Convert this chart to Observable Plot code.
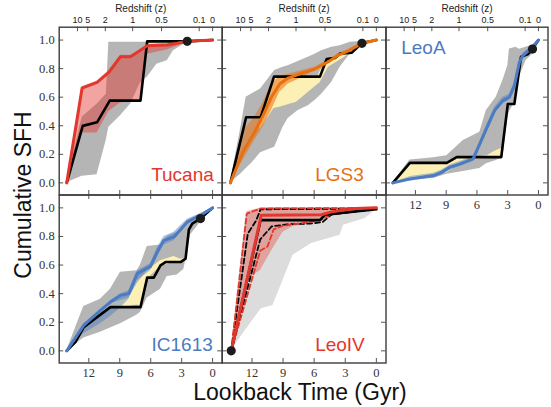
<!DOCTYPE html>
<html>
<head>
<meta charset="utf-8">
<script src="https://cdn.jsdelivr.net/npm/d3@7"></script>
<script src="https://cdn.jsdelivr.net/npm/@observablehq/plot@0.6"></script>
<style>
  body { margin: 0; background: #fff; }
  #fig { position: relative; width: 551px; height: 407px; overflow: hidden; background: #fff; }
  #fig svg { position: absolute; left: 0; top: 0; }
  .big { position: absolute; font-family: "Liberation Sans", Arial, sans-serif; font-size: 23px; line-height: 1; white-space: nowrap; color: #111; }
</style>
</head>
<body>
<div id="fig">
  <div class="big" id="ylab">Cumulative SFH</div>
  <div class="big" id="xlab">Lookback Time (Gyr)</div>
</div>
<script>
// ---- axes ----
const lookbackTicks = [0, 3, 6, 9, 12];
const sfhTicks = [0, 0.2, 0.4, 0.6, 0.8, 1.0];
const redshiftLabels = ["10", "5", "2", "1", "0.5", "0.1", "0"];
const redshiftLookback = [13.1, 12.1, 10.4, 7.75, 4.95, 1.3, 0];

// ---- Tucana: [t, value] lines, [t, lo, hi] bands ----
const tucanaGray = [[14.14,0,0],[12.65,0.047,0.46],[11.2,0.056,0.55],[10.3,0.3,0.62],[10.06,0.39,0.985],[8.93,0.47,0.985],[7.96,0.55,0.985],[7.0,0.70,0.985],[6.34,0.74,0.985],[5.4,0.83,0.985],[4.4,0.855,0.987],[3.8,0.925,0.99],[2.46,0.985,0.992],[0,1,1]];
const tucanaYellow = [[6.34,0.96,0.99],[4.4,0.965,0.99],[3.43,0.977,0.99]];
const tucanaBand = [[14.14,0,0],[12.65,0.35,0.675],[11.2,0.35,0.712],[10.06,0.5,0.785],[8.93,0.56,0.893],[7.96,0.575,0.893],[7.0,0.58,0.92],[6.34,0.9,0.968],[4.4,0.93,0.975],[2.46,0.985,0.995],[0,1,1]];
const tucanaBlack = [[14.14,0],[12.59,0.399],[11.2,0.424],[9.97,0.576],[6.99,0.576],[6.34,0.991],[2.46,0.991],[0,1]];
const tucanaLine = [[14.14,0],[12.65,0.664],[11.2,0.704],[10.06,0.774],[8.93,0.883],[7.96,0.883],[6.34,0.96],[4.4,0.965],[3.43,0.977],[2.46,0.991],[0,1]];
const tucanaDot = [[2.46,0.991]];

// ---- LGS3 ----
const lgs3Gray = [[14.08,0,0],[13.04,0.063,0.4],[12.56,0.1,0.6],[12.07,0.133,0.62],[11.17,0.21,0.657],[9.81,0.249,0.786],[9.0,0.389,0.81],[8.51,0.45,0.82],[7.54,0.506,0.85],[6.57,0.54,0.879],[5.92,0.576,0.9],[5.28,0.62,0.925],[4.3,0.704,0.949],[3.5,0.809,0.96],[2.52,0.902,0.984],[1.39,0.972,0.99],[0,1,1]];
const lgs3Yellow = [[11.26,0.37,0.46],[9.87,0.52,0.744],[9.32,0.53,0.744],[7.7,0.564,0.744],[5.6,0.692,0.75],[5.44,0.70,0.78],[4.63,0.809,0.867],[3.33,0.867,0.91],[1.39,0.96,0.977],[0,1,1]];
const lgs3Band = [[14.08,0,0],[12.88,0.156,0.36],[11.75,0.296,0.46],[10.94,0.389,0.56],[10.13,0.506,0.69],[9.32,0.634,0.745],[8.51,0.692,0.76],[7.22,0.734,0.785],[5.92,0.785,0.81],[4.63,0.838,0.862],[3.66,0.885,0.905],[2.69,0.915,0.935],[1.39,0.97,0.982],[0,1,1]];
const lgs3Black = [[14.08,0],[12.56,0.459],[11.17,0.459],[9.87,0.744],[5.44,0.744],[4.79,0.867],[3.98,0.875],[3.5,0.905],[2.36,0.912],[1.88,0.945],[1.39,0.977],[0,1]];
const lgs3Line = [[14.08,0],[12.88,0.214],[11.75,0.354],[10.94,0.471],[10.13,0.599],[9.32,0.692],[8.51,0.734],[7.22,0.767],[5.92,0.797],[4.63,0.848],[3.66,0.895],[2.69,0.925],[1.39,0.977],[0,1]];
const lgs3Dot = [[1.39,0.977]];

// ---- LeoA ----
const leoaGray = [[14.2,0,0],[12.54,0.02,0.16],[10.23,0.03,0.175],[8.94,0.06,0.19],[7.33,0.08,0.296],[5.72,0.1,0.354],[5.08,0.133,0.506],[4.12,0.156,0.6],[3.47,0.18,0.716],[2.99,0.46,0.82],[2.83,0.5,0.937],[2.19,0.576,0.949],[1.86,0.739,0.935],[1.22,0.855,0.949],[0.58,0.9,0.965],[0,1,1]];
const leoaYellow = [[14.2,0,0],[12.54,0.03,0.14],[10.23,0.05,0.14],[8.94,0.07,0.14],[7.97,0.12,0.18],[6.37,0.165,0.18],[5.0,0.17,0.19],[4.3,0.175,0.22],[3.63,0.18,0.24],[3.5,0.2,0.22]];
const leoaBand = [[14.2,0,0],[12.48,0.012,0.045],[10.23,0.035,0.068],[9.42,0.055,0.09],[8.62,0.09,0.125],[7.65,0.115,0.15],[6.37,0.15,0.185],[5.72,0.25,0.29],[5.08,0.355,0.4],[4.28,0.485,0.53],[3.47,0.555,0.6],[2.83,0.58,0.62],[2.35,0.66,0.7],[1.86,0.82,0.86],[1.54,0.87,0.905],[0.9,0.915,0.945],[0.58,0.935,0.962],[0,1,1]];
const leoaBlack = [[14.2,0],[12.54,0.14],[8.94,0.14],[7.97,0.18],[3.63,0.18],[2.99,0.552],[2.35,0.552],[1.7,0.883],[1.06,0.9],[0.58,0.937],[0,1]];
const leoaLine = [[14.2,0],[12.48,0.028],[10.23,0.051],[9.42,0.075],[8.62,0.11],[7.65,0.133],[6.37,0.168],[5.72,0.273],[5.08,0.378],[4.28,0.506],[3.47,0.576],[2.83,0.6],[2.35,0.681],[1.86,0.844],[1.54,0.89],[0.9,0.93],[0.58,0.949],[0,1]];
const leoaDot = [[0.58,0.937]];

// ---- IC1613 ----
const icGray = [[14.14,0,0],[12.49,0.09,0.31],[10.87,0.13,0.36],[9.9,0.16,0.43],[8.93,0.19,0.55],[7.31,0.25,0.56],[6.99,0.27,0.6],[6.34,0.37,0.73],[5.05,0.43,0.74],[4.4,0.52,0.8],[3.43,0.53,0.83],[2.78,0.57,0.87],[2.14,0.81,0.91],[1.17,0.9,0.95],[0,1,1]];
const icYellow = [[14.14,0,0],[13.3,0.06,0.08],[12.49,0.16,0.18],[11.2,0.23,0.26],[9.9,0.3,0.33],[8.12,0.31,0.37],[7.31,0.32,0.47],[6.99,0.31,0.5],[6.34,0.5,0.56],[5.05,0.59,0.63],[3.75,0.62,0.66],[3.1,0.62,0.64],[2.62,0.645,0.65]];
const icBand = [[14.14,0,0],[12.49,0.12,0.19],[10.87,0.19,0.29],[9.9,0.24,0.35],[8.93,0.3,0.4],[8.12,0.36,0.42],[7.31,0.49,0.56],[6.02,0.56,0.61],[5.37,0.65,0.72],[4.72,0.74,0.8],[3.75,0.77,0.83],[2.46,0.88,0.92],[1.17,0.935,0.96],[0,1,1]];
const icBlack = [[14.14,0],[13.3,0.061],[12.49,0.166],[11.2,0.236],[9.9,0.306],[6.99,0.306],[6.34,0.512],[5.7,0.512],[5.05,0.598],[4.56,0.621],[3.1,0.621],[2.62,0.645],[2.3,0.848],[1.97,0.89],[1.17,0.925],[0,1]];
const icLine = [[14.14,0],[12.49,0.178],[10.87,0.283],[9.9,0.341],[8.93,0.388],[8.12,0.4],[7.31,0.54],[6.02,0.591],[5.37,0.692],[4.72,0.773],[3.75,0.797],[2.46,0.902],[1.17,0.949],[0,1]];
const icDot = [[1.17,0.925]];

// ---- LeoIV ----
const leoivGray = [[14.0,0,0],[12.6,0.145,0.95],[11.1,0.294,1.0],[9.97,0.318,1.0],[8.03,0.668,1.0],[6.25,0.75,1.0],[3.5,0.808,1.0],[3.17,0.879,1.0],[1.07,0.925,1.0],[0,0.99,1.0]];
const leoivBand = [[14.0,0,0],[12.46,0.5,0.975],[11.2,0.56,0.998],[10.1,0.7,1],[9.0,0.83,1],[8.0,0.87,1],[6.0,0.89,1],[4.3,0.94,1],[0,1,1]];
const leoivBlackHi = [[14.0,0],[12.4,0.82],[11.6,0.91],[11.17,0.99],[0,0.995]];
const leoivBlackLo = [[14.0,0],[11.2,0.78],[10.1,0.87],[8.6,0.885],[6.4,0.89],[5.2,0.9],[4.3,0.955],[0,0.99]];
const leoivRedHi = [[14.0,0],[12.5,0.96],[11.2,0.995],[0,1]];
const leoivRedLo = [[14.0,0],[11.2,0.7],[10.5,0.73],[9.9,0.85],[9.0,0.875],[6.5,0.9],[5.2,0.92],[4.0,0.97],[0,1]];
const leoivBlack = [[14.0,0],[11.17,0.914],[5.44,0.914],[4.95,0.953],[0,0.99]];
const leoivLine = [[14.0,0],[11.1,0.949],[5.3,0.952],[4.3,0.972],[2.04,0.995],[0,1]];
const leoivDot = [[14.0,0]];

// ---- styling ----
const W = 551, H = 407;
const X_DOMAIN = [14.87, -0.93];
const Y_DOMAIN = [-0.085, 1.09];
const RED = "#e2372d", ORANGE = "#e8700f", BLUE = "#4a7bc3";
const GRAY = "#b5b5b5", LIGHTGRAY = "#dcdcdc", YELLOW = "#fdf0b4";
const SANS = "'Liberation Sans', Arial, sans-serif";
const SERIF = "'Liberation Serif', 'Times New Roman', serif";
const fmt = d3.format(".1f");

const tx = d => d[0], vy = d => d[1];
const band = (data, fill, fillOpacity = 1) =>
  Plot.areaY(data, {x: tx, y1: d => d[1], y2: d => d[2], fill, fillOpacity});
const line = (data, stroke, strokeWidth = 3, extra = {}) =>
  Plot.line(data, {x: tx, y: vy, stroke, strokeWidth, strokeLinejoin: "round", ...extra});
const dot = data => Plot.dot(data, {x: tx, y: vy, r: 4.6, fill: "#1c1c1c"});

function panel(box, marks, opt) {
  const w = box.right - box.left, h = box.bottom - box.top, tk = 4.5;
  const all = [
    ...marks,
    Plot.tickX(lookbackTicks, {x: d => d, insetTop: h - tk, stroke: "#555"}),
    Plot.tickX(opt.top === "z" ? redshiftLookback : lookbackTicks, {x: d => d, insetBottom: h - tk, stroke: "#555"}),
    Plot.tickY(sfhTicks, {y: d => d, insetRight: w - tk, stroke: "#555"}),
    Plot.tickY(sfhTicks, {y: d => d, insetLeft: w - tk, stroke: "#555"}),
    Plot.frame({stroke: "#3c3c3c", strokeWidth: 1.4}),
    Plot.text([opt.name], {text: d => d, frameAnchor: opt.anchor, dx: opt.dx, dy: opt.dy,
      textAnchor: opt.anchor.endsWith("left") ? "start" : "end", lineAnchor: "middle",
      fill: opt.color, fontSize: 19, fontFamily: SANS})
  ];
  if (opt.top === "z") {
    all.push(
      Plot.text(redshiftLookback, {x: d => d, text: (d, i) => redshiftLabels[i], frameAnchor: "top",
        dy: -7.4, lineAnchor: "middle", fontSize: 9, fontFamily: SANS, fill: "#222"}),
      Plot.text(["Redshift (z)"], {text: d => d, frameAnchor: "top", dy: -18.4, lineAnchor: "middle",
        fontSize: 10, fontFamily: SANS, fill: "#222"})
    );
  }
  if (opt.yLabels) {
    all.push(Plot.text(sfhTicks, {y: d => d, text: fmt, frameAnchor: "left", dx: -4.5,
      textAnchor: "end", lineAnchor: "middle", fontSize: 12.5, fontFamily: SERIF, fill: "#333"}));
  }
  if (opt.xLabels) {
    all.push(Plot.text(lookbackTicks, {x: d => d, text: d => String(d), frameAnchor: "bottom", dy: 9.8,
      lineAnchor: "middle", fontSize: 12.5, fontFamily: SERIF, fill: "#333"}));
  }
  return Plot.plot({
    width: W, height: H,
    marginLeft: box.left, marginRight: W - box.right,
    marginTop: box.top, marginBottom: H - box.bottom,
    x: {domain: X_DOMAIN, axis: null},
    y: {domain: Y_DOMAIN, axis: null},
    style: {background: "transparent", overflow: "visible", color: "#222"},
    marks: all
  });
}

const rowTop = {top: 26.7, bottom: 194.5};
const rowBot = {top: 194.5, bottom: 362.5};
const col = [{left: 58.7, right: 221.7}, {left: 221.7, right: 385.5}, {left: 385.5, right: 547.5}];

const fig = document.getElementById("fig");
const panels = [
  panel({...col[0], ...rowTop}, [
    band(tucanaGray, GRAY), band(tucanaYellow, YELLOW), band(tucanaBand, RED, 0.45),
    line(tucanaBlack, "#000", 2.6), line(tucanaLine, RED, 3), dot(tucanaDot)
  ], {name: "Tucana", color: RED, anchor: "bottom-right", dx: -8.4, dy: -19.6, top: "z", yLabels: true}),
  panel({...col[1], ...rowTop}, [
    band(lgs3Gray, GRAY), band(lgs3Yellow, YELLOW), band(lgs3Band, ORANGE, 0.55),
    line(lgs3Black, "#000", 2.6), line(lgs3Line, ORANGE, 3), dot(lgs3Dot)
  ], {name: "LGS3", color: ORANGE, anchor: "bottom-right", dx: -22.2, dy: -19.6, top: "z"}),
  panel({...col[2], ...rowTop}, [
    band(leoaGray, GRAY), band(leoaYellow, YELLOW), band(leoaBand, BLUE, 0.45),
    line(leoaBlack, "#000", 2.6), line(leoaLine, BLUE, 3), dot(leoaDot)
  ], {name: "LeoA", color: BLUE, anchor: "top-left", dx: 15.2, dy: 20.5, top: "z", xLabels: true}),
  panel({...col[0], ...rowBot}, [
    band(icGray, GRAY), band(icYellow, YELLOW), band(icBand, BLUE, 0.45),
    line(icBlack, "#000", 2.6), line(icLine, BLUE, 3), dot(icDot)
  ], {name: "IC1613", color: BLUE, anchor: "bottom-right", dx: -9.4, dy: -18.3, top: "t", yLabels: true, xLabels: true}),
  panel({...col[1], ...rowBot}, [
    band(leoivGray, LIGHTGRAY), band(leoivBand, RED, 0.35),
    line(leoivBlackHi, "#000", 1.8, {strokeDasharray: "5,3"}),
    line(leoivBlackLo, "#000", 1.8, {strokeDasharray: "5,3"}),
    line(leoivRedHi, RED, 1.8, {strokeDasharray: "5,3"}),
    line(leoivRedLo, RED, 1.8, {strokeDasharray: "5,3"}),
    line(leoivBlack, "#000", 2.6), line(leoivLine, RED, 3), dot(leoivDot)
  ], {name: "LeoIV", color: RED, anchor: "bottom-right", dx: -21.2, dy: -18.3, top: "t", xLabels: true})
];
for (const p of panels) fig.appendChild(p);

// shared axis titles
const ylab = document.getElementById("ylab");
ylab.style.left = "22.5px"; ylab.style.top = "195px";
ylab.style.transform = "translate(-50%, -50%) rotate(-90deg)";
const xlab = document.getElementById("xlab");
xlab.style.left = "300px"; xlab.style.top = "380.5px";
xlab.style.transform = "translateX(-50%)";
</script>
</body>
</html>
